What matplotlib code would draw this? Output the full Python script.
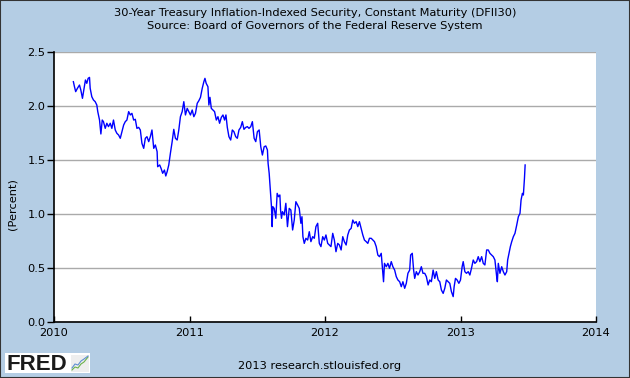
import matplotlib
matplotlib.use("Agg")
import matplotlib.pyplot as plt
from matplotlib.patches import Rectangle
from matplotlib.lines import Line2D

# Decimal-year dates and values (percent)
dates = [
2010.143,2010.151,2010.160,2010.173,2010.188,2010.198,2010.210,2010.220,2010.232,2010.242,
2010.252,2010.262,2010.267,2010.279,2010.291,2010.304,2010.316,2010.323,2010.336,2010.346,
2010.356,2010.365,2010.378,2010.390,2010.402,2010.415,2010.427,2010.439,2010.452,2010.464,
2010.477,2010.489,2010.501,2010.514,2010.526,2010.538,2010.551,2010.563,2010.575,2010.588,
2010.600,2010.612,2010.625,2010.637,2010.649,2010.662,2010.674,2010.686,2010.699,2010.711,
2010.723,2010.736,2010.748,2010.761,2010.765,2010.780,2010.790,2010.802,2010.815,2010.825,
2010.835,2010.847,2010.859,2010.872,2010.884,2010.896,2010.909,2010.921,2010.933,2010.946,
2010.958,2010.970,2010.983,2010.995,2011.007,2011.020,2011.032,2011.044,2011.057,2011.069,
2011.081,2011.094,2011.106,2011.114,2011.123,2011.136,2011.143,2011.151,2011.161,2011.173,
2011.185,2011.198,2011.210,2011.222,2011.235,2011.247,2011.259,2011.269,2011.279,2011.291,
2011.304,2011.316,2011.328,2011.341,2011.353,2011.365,2011.378,2011.390,2011.402,2011.415,
2011.427,2011.439,2011.452,2011.464,2011.477,2011.489,2011.501,2011.514,2011.526,2011.538,
2011.551,2011.563,2011.575,2011.580,2011.588,2011.595,2011.600,2011.605,2011.610,2011.615,
2011.625,2011.637,2011.647,2011.657,2011.667,2011.672,2011.679,2011.686,2011.699,2011.711,
2011.723,2011.736,2011.748,2011.761,2011.773,2011.785,2011.798,2011.810,2011.822,2011.830,
2011.837,2011.847,2011.859,2011.872,2011.884,2011.896,2011.909,2011.921,2011.933,2011.946,
2011.958,2011.970,2011.983,2011.995,2012.007,2012.020,2012.032,2012.044,2012.057,2012.069,
2012.081,2012.094,2012.106,2012.119,2012.131,2012.143,2012.156,2012.168,2012.180,2012.193,
2012.205,2012.217,2012.230,2012.242,2012.254,2012.267,2012.279,2012.291,2012.304,2012.316,
2012.328,2012.341,2012.353,2012.365,2012.378,2012.390,2012.402,2012.415,2012.427,2012.432,
2012.439,2012.452,2012.464,2012.476,2012.489,2012.501,2012.514,2012.526,2012.538,2012.551,
2012.563,2012.575,2012.588,2012.600,2012.612,2012.625,2012.632,2012.644,2012.654,2012.662,
2012.674,2012.686,2012.699,2012.711,2012.723,2012.736,2012.748,2012.761,2012.773,2012.785,
2012.798,2012.810,2012.822,2012.835,2012.847,2012.859,2012.872,2012.884,2012.896,2012.909,
2012.921,2012.933,2012.946,2012.953,2012.963,2012.975,2012.988,2013.000,2013.012,2013.020,
2013.032,2013.044,2013.057,2013.069,2013.081,2013.094,2013.106,2013.119,2013.131,2013.143,
2013.156,2013.168,2013.180,2013.193,2013.205,2013.217,2013.230,2013.242,2013.254,2013.267,
2013.272,2013.279,2013.291,2013.304,2013.316,2013.328,2013.341,2013.348,2013.358,2013.368,
2013.378,2013.390,2013.402,2013.415,2013.427,2013.439,2013.447,2013.457,2013.464,2013.472,
2013.477,
]
values = [
2.225,2.179,2.133,2.164,2.194,2.148,2.071,2.148,2.241,2.210,
2.256,2.265,2.164,2.086,2.056,2.040,2.009,1.948,1.870,1.741,
1.870,1.855,1.793,1.840,1.809,1.840,1.793,1.870,1.778,1.747,
1.731,1.701,1.762,1.824,1.855,1.870,1.948,1.917,1.932,1.870,
1.877,1.793,1.802,1.778,1.654,1.608,1.701,1.716,1.670,1.716,
1.778,1.608,1.639,1.577,1.438,1.454,1.423,1.377,1.407,1.352,
1.392,1.454,1.562,1.670,1.784,1.701,1.685,1.778,1.901,1.948,
2.040,1.917,1.978,1.948,1.917,1.963,1.901,1.932,2.025,2.049,
2.080,2.164,2.225,2.256,2.210,2.179,2.009,2.080,1.978,1.963,
1.948,1.870,1.901,1.840,1.895,1.917,1.870,1.917,1.802,1.716,
1.685,1.778,1.762,1.716,1.701,1.778,1.802,1.855,1.784,1.802,
1.809,1.793,1.809,1.855,1.701,1.670,1.762,1.778,1.623,1.546,
1.623,1.630,1.593,1.469,1.377,1.253,1.160,1.068,0.883,1.068,
1.052,0.960,1.191,1.160,1.176,1.037,0.960,1.022,0.991,1.099,
0.883,1.052,1.037,0.852,0.944,1.114,1.083,1.052,0.914,0.975,
0.790,0.728,0.775,0.759,0.836,0.744,0.790,0.775,0.883,0.914,
0.728,0.698,0.790,0.759,0.806,0.728,0.713,0.698,0.821,0.759,
0.651,0.728,0.713,0.667,0.790,0.744,0.713,0.806,0.852,0.867,
0.944,0.914,0.929,0.883,0.929,0.867,0.806,0.759,0.744,0.728,
0.775,0.775,0.759,0.744,0.698,0.620,0.605,0.636,0.451,0.373,
0.543,0.512,0.543,0.497,0.559,0.512,0.481,0.420,0.389,0.373,
0.327,0.373,0.312,0.358,0.451,0.481,0.620,0.636,0.481,0.404,
0.466,0.435,0.466,0.512,0.451,0.451,0.420,0.343,0.389,0.373,
0.481,0.404,0.466,0.389,0.373,0.296,0.265,0.312,0.389,0.373,
0.358,0.281,0.235,0.327,0.404,0.389,0.358,0.389,0.512,0.559,
0.466,0.451,0.466,0.435,0.497,0.574,0.543,0.559,0.605,0.559,
0.605,0.543,0.528,0.667,0.667,0.636,0.620,0.605,0.574,0.420,
0.373,0.543,0.451,0.512,0.466,0.435,0.466,0.574,0.636,0.698,
0.744,0.790,0.821,0.898,0.975,1.006,1.130,1.191,1.176,1.330,
1.454,
]

year_ticks = [2010, 2011, 2012, 2013, 2014]
value_ticks = [0.0, 0.5, 1.0, 1.5, 2.0, 2.5]

title_line1 = "30-Year Treasury Inflation-Indexed Security, Constant Maturity (DFII30)"
title_line2 = "Source: Board of Governors of the Federal Reserve System"
y_label = "(Percent)"
footer = "2013 research.stlouisfed.org"

bg = "#b4cde4"
W, H = 630, 378
FS = 8.2
fig = plt.figure(figsize=(W / 100, H / 100), dpi=100, facecolor=bg)
ax = fig.add_axes([54 / W, 56 / H, 542 / W, 270 / H])
ax.set_facecolor("white")

ax.plot(dates, values, color="#0000ff", linewidth=1.0)

ax.set_xlim(2010, 2014)
ax.set_ylim(0, 2.5)
ax.set_xticks(year_ticks)
ax.set_xticklabels([str(y) for y in year_ticks])
ax.set_yticks(value_ticks)
ax.set_yticklabels([f"{v:.1f}" for v in value_ticks])
ax.yaxis.grid(True, color="#aaaaaa", linewidth=1.0)
ax.set_axisbelow(True)
ax.tick_params(axis="x", direction="in", length=4, width=1, color="black",
               labelsize=FS, pad=4)
ax.tick_params(axis="y", direction="out", length=5, width=1, color="black",
               labelsize=FS, pad=1)
for s in ["top", "right"]:
    ax.spines[s].set_visible(False)
ax.spines["left"].set_color("black")
ax.spines["bottom"].set_color("black")
ax.spines["left"].set_linewidth(1.2)
ax.spines["bottom"].set_linewidth(1.2)

fig.text(13 / W, 1 - 204 / H, y_label, ha="center", va="center", rotation=90,
         fontsize=FS)
fig.text(315 / W, 1 - 13 / H, title_line1, ha="center", va="center", fontsize=FS)
fig.text(315 / W, 1 - 26 / H, title_line2, ha="center", va="center", fontsize=FS)
fig.text(320 / W, 1 - 366 / H, footer, ha="center", va="center", fontsize=FS)

# FRED logo box
fig.patches.append(Rectangle((5 / W, 1 - 373 / H), 85 / W, 20 / H,
                             transform=fig.transFigure, facecolor="white",
                             edgecolor="none", zorder=1))
fig.text(6 / W, 1 - 364.5 / H, "FRED", ha="left", va="center", fontsize=16,
         fontweight="bold", color="#1a1a1a", family="Liberation Sans")
fig.patches.append(Rectangle((71 / W, 1 - 372 / H), 18 / W, 17 / H,
                             transform=fig.transFigure, facecolor="#eeeeee",
                             edgecolor="none", zorder=1))
icon_x = [72, 75, 78, 81, 84, 88]
icon_g = [370, 367, 368, 364, 362, 357]
icon_b = [368, 364, 365, 361, 359, 356]
fig.lines.append(Line2D([x / W for x in icon_x], [1 - y / H for y in icon_g],
                        transform=fig.transFigure, color="#6bb24a", linewidth=0.8))
fig.lines.append(Line2D([x / W for x in icon_x], [1 - y / H for y in icon_b],
                        transform=fig.transFigure, color="#5f8fd0", linewidth=0.8))

# outer frame
fig.patches.append(Rectangle((0, 0), 1, 1, transform=fig.transFigure,
                             facecolor="none", edgecolor="#333333", linewidth=1.5))

fig.savefig("out.png", dpi=100, facecolor=bg)
